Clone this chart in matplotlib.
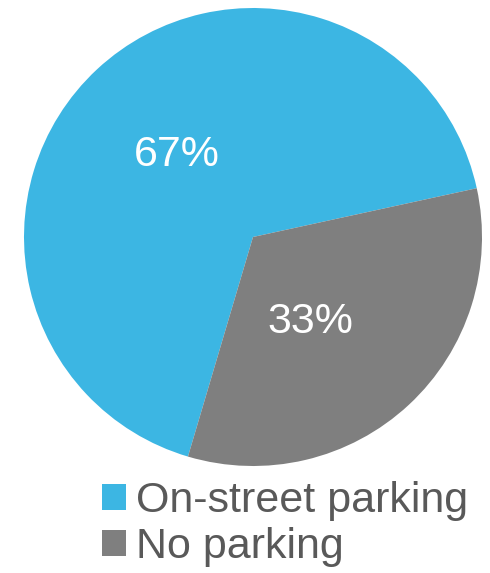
import matplotlib
matplotlib.use('Agg')
import matplotlib.pyplot as plt
import numpy as np
from matplotlib.patches import Patch

plt.rcParams['font.family'] = ['Liberation Sans', 'DejaVu Sans']

categories = ['On-street parking', 'No parking']
shares = [67, 33]
colors = ['#3CB6E3', '#7F7F7F']

W, H = 490, 573
fig = plt.figure(figsize=(W / 100, H / 100), dpi=100)

# pie placement in pixels
cx, cy, r = 253, 237, 229
ax = fig.add_axes([(cx - r) / W, 1 - (cy + r) / H, 2 * r / W, 2 * r / H])

wedges, texts, autotexts = ax.pie(shares, colors=colors, startangle=12.3,
                                  counterclock=True, radius=1,
                                  autopct='%1.0f%%', pctdistance=0.49,
                                  wedgeprops=dict(linewidth=0),
                                  textprops=dict(color='white', fontsize=31))
# pie() resets the limits, so set them afterwards
ax.set_xlim(-1, 1)
ax.set_ylim(-1, 1)
ax.set_aspect('equal')
ax.axis('off')

# nudge the 33% label like the original
autotexts[1].set_position((0.45 * np.cos(np.radians(-56)), 0.45 * np.sin(np.radians(-56))))

handles = [Patch(facecolor=c, edgecolor='none') for c in colors]
leg = fig.legend(handles, categories, loc='upper left',
                 bbox_to_anchor=(102 / W, 1 - 481 / H), frameon=False,
                 fontsize=31, handlelength=0.55, handleheight=0.55,
                 handletextpad=0.24, labelspacing=0.14, borderpad=0,
                 borderaxespad=0)
for t in leg.get_texts():
    t.set_color('#595959')

fig.savefig('out.png', dpi=100)
